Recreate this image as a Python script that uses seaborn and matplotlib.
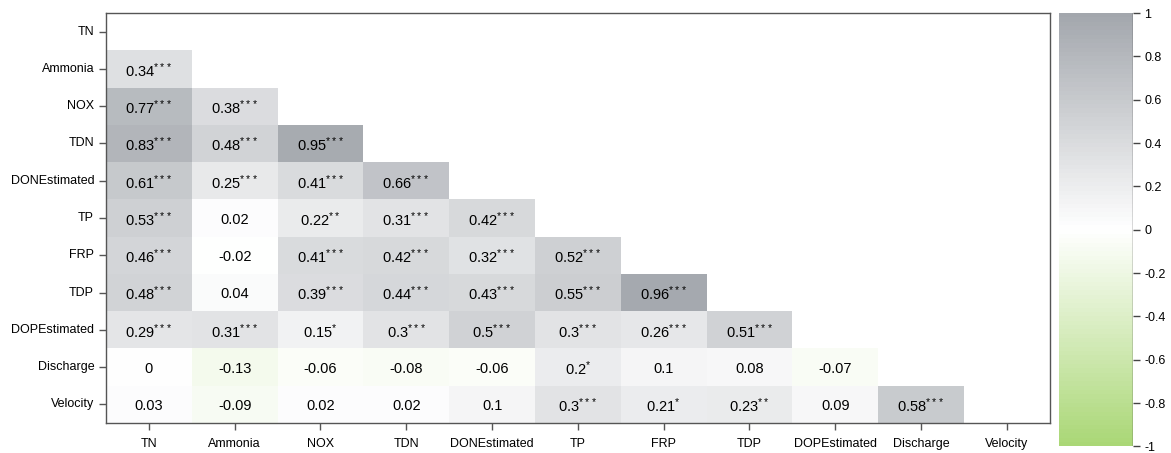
import numpy as np
import pandas as pd
import matplotlib
matplotlib.use("Agg")
import matplotlib.pyplot as plt
import seaborn as sns
from matplotlib.colors import LinearSegmentedColormap

variables = ["TN", "Ammonia", "NOX", "TDN", "DONEstimated", "TP", "FRP",
             "TDP", "DOPEstimated", "Discharge", "Velocity"]

# lower triangle, row by row (row i has i entries)
corr_rows = [
    [],
    [0.34],
    [0.77, 0.38],
    [0.83, 0.48, 0.95],
    [0.61, 0.25, 0.41, 0.66],
    [0.53, 0.02, 0.22, 0.31, 0.42],
    [0.46, -0.02, 0.41, 0.42, 0.32, 0.52],
    [0.48, 0.04, 0.39, 0.44, 0.43, 0.55, 0.96],
    [0.29, 0.31, 0.15, 0.30, 0.50, 0.30, 0.26, 0.51],
    [0.00, -0.13, -0.06, -0.08, -0.06, 0.20, 0.10, 0.08, -0.07],
    [0.03, -0.09, 0.02, 0.02, 0.10, 0.30, 0.21, 0.23, 0.09, 0.58],
]
stars_rows = [
    [],
    ["***"],
    ["***", "***"],
    ["***", "***", "***"],
    ["***", "***", "***", "***"],
    ["***", "", "**", "***", "***"],
    ["***", "", "***", "***", "***", "***"],
    ["***", "", "***", "***", "***", "***", "***"],
    ["***", "***", "*", "***", "***", "***", "***", "***"],
    ["", "", "", "", "", "*", "", "", ""],
    ["", "", "", "", "", "***", "*", "**", "", "***"],
]

cbar_ticks = [-1, -0.8, -0.6, -0.4, -0.2, 0, 0.2, 0.4, 0.6, 0.8, 1]
cbar_labels = ["-1", "-0.8", "-0.6", "-0.4", "-0.2", "0", "0.2", "0.4", "0.6", "0.8", "1"]

n = len(variables)
mat = np.full((n, n), np.nan)
labels = np.full((n, n), "", dtype=object)
for i, row in enumerate(corr_rows):
    for j, v in enumerate(row):
        mat[i, j] = v
        s = stars_rows[i][j]
        # stars drawn small and raised, like the original
        labels[i, j] = f"{v:g}" + (r"$^{\mathrm{" + s + "}}$" if s else "")
df = pd.DataFrame(mat, index=variables, columns=variables)
mask = np.isnan(mat)

cmap = LinearSegmentedColormap.from_list(
    "gw", ["#aad776", "#ffffff", "#a3a7ad"], N=100)

plt.rcParams["font.family"] = ["Liberation Sans", "DejaVu Sans"]
plt.rcParams["mathtext.fontset"] = "custom"
plt.rcParams["mathtext.rm"] = "Liberation Sans"
plt.rcParams["mathtext.it"] = "Liberation Sans"
fig = plt.figure(figsize=(11.71, 4.53), dpi=100)
ax = fig.add_axes([0.0905, 0.0662, 0.806, 0.905])
cax = fig.add_axes([0.9044, 0.0145, 0.0632, 0.9568])

sns.heatmap(df, mask=mask, cmap=cmap, vmin=-1, vmax=1, annot=labels, fmt="",
            annot_kws={"fontsize": 10.5, "color": "black", "va": "center_baseline"},
            ax=ax, cbar_ax=cax, cbar_kws={"ticks": cbar_ticks})

for s in ax.spines.values():
    s.set_visible(True)
    s.set_color("#555555")
    s.set_linewidth(1)
ax.tick_params(axis="both", length=5, width=1, color="#555555", labelsize=9)
ax.tick_params(axis="x", pad=6)
ax.set_xticklabels(variables, rotation=0)
ax.set_yticklabels(variables, rotation=0)
ax.set_xlabel("")
ax.set_ylabel("")

cb = ax.collections[0].colorbar
cb.outline.set_visible(False)
cax.tick_params(length=5, width=1, color="#444444", labelsize=9, pad=3)
cax.set_yticklabels(cbar_labels)
cax.axvline(1, color="#444444", lw=1)

fig.savefig("out.png", dpi=100)
